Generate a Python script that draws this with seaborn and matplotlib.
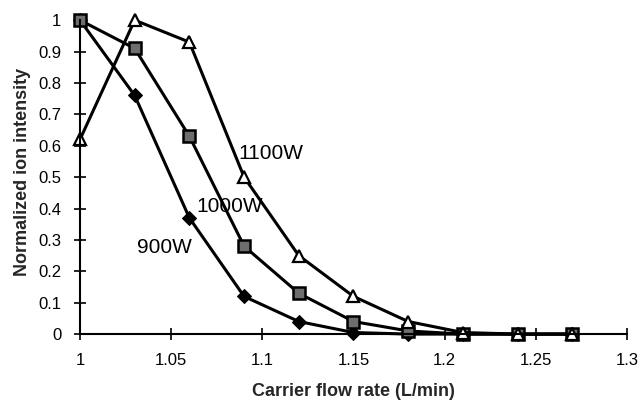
import matplotlib
matplotlib.use("Agg")
import matplotlib.pyplot as plt
import seaborn as sns
import pandas as pd

flow_rate = [1.00, 1.03, 1.06, 1.09, 1.12, 1.15, 1.18, 1.21, 1.24, 1.27]
int_900w = [1.00, 0.76, 0.37, 0.12, 0.04, 0.005, 0.0, 0.0, 0.0, 0.0]
int_1000w = [1.00, 0.91, 0.63, 0.28, 0.13, 0.04, 0.01, 0.0, 0.0, 0.0]
int_1100w = [0.62, 1.00, 0.93, 0.50, 0.25, 0.12, 0.04, 0.005, 0.0, 0.0]
x_ticks = [1, 1.05, 1.1, 1.15, 1.2, 1.25, 1.3]
x_tick_labels = ["1", "1.05", "1.1", "1.15", "1.2", "1.25", "1.3"]
y_ticks = [0, 0.1, 0.2, 0.3, 0.4, 0.5, 0.6, 0.7, 0.8, 0.9, 1]
y_tick_labels = ["0", "0.1", "0.2", "0.3", "0.4", "0.5", "0.6", "0.7", "0.8", "0.9", "1"]

sns.set_theme(style="ticks")
plt.rcParams["font.family"] = ["Liberation Sans", "DejaVu Sans"]

fig = plt.figure(figsize=(6.42, 4.03), dpi=100)
ax = fig.add_axes([0.1246, 0.171, 0.852, 0.779])

series = [
    (int_900w, dict(marker="D", markersize=7, markerfacecolor="black", markeredgecolor="black")),
    (int_1000w, dict(marker="s", markersize=8.5, markerfacecolor="#6e6e6e", markeredgecolor="black", markeredgewidth=1.8)),
    (int_1100w, dict(marker="^", markersize=9, markerfacecolor="white", markeredgecolor="black", markeredgewidth=1.6)),
]
for values, mk in series:
    df = pd.DataFrame({"flow": flow_rate, "intensity": values})
    sns.lineplot(data=df, x="flow", y="intensity", ax=ax, color="black",
                 linewidth=2.2, clip_on=False, **mk)

ax.set_xlim(1, 1.3)
ax.set_ylim(0, 1)
ax.set_xticks(x_ticks)
ax.set_xticklabels(x_tick_labels)
ax.set_yticks(y_ticks)
ax.set_yticklabels(y_tick_labels)
sns.despine(ax=ax)
for side in ("left", "bottom"):
    ax.spines[side].set_linewidth(1.5)
    ax.spines[side].set_color("black")
ax.tick_params(axis="both", direction="inout", length=9, width=1.2,
               labelsize=12, colors="black", pad=9)
ax.set_xlabel("Carrier flow rate (L/min)", fontsize=13, fontweight="bold", labelpad=11)
ax.set_ylabel("Normalized ion intensity", fontsize=13, fontweight="bold", labelpad=4)
ax.yaxis.set_label_coords(-0.09, 0.515)

ax.text(1.087, 0.575, "1100W", fontsize=15, color="black", ha="left", va="center")
ax.text(1.064, 0.405, "1000W", fontsize=15, color="black", ha="left", va="center")
ax.text(1.031, 0.275, "900W", fontsize=15, color="black", ha="left", va="center")

fig.savefig("out.png", dpi=100, facecolor="white")
